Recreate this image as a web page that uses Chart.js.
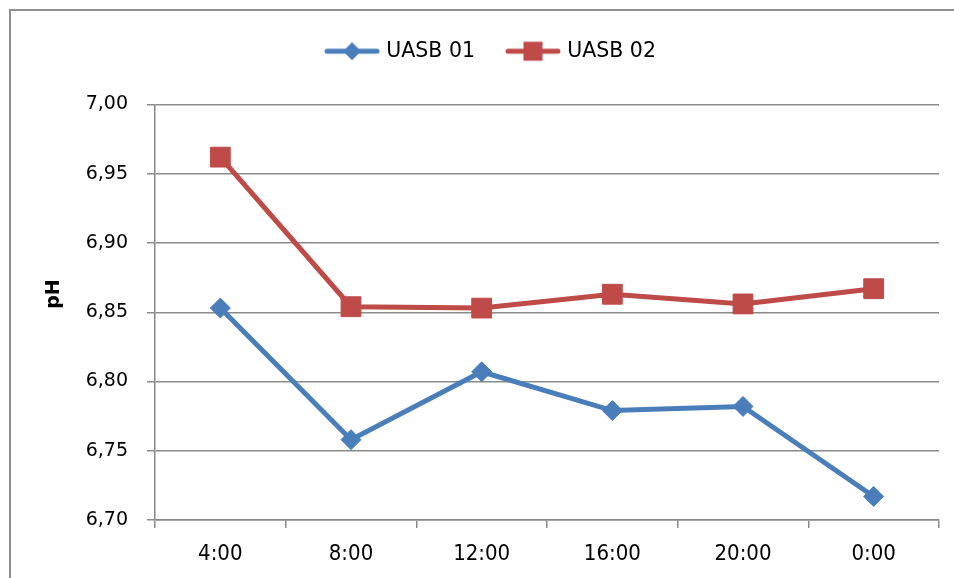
<!DOCTYPE html>
<html>
<head>
<meta charset="utf-8">
<script src="https://cdn.jsdelivr.net/npm/chart.js@4.4.1/dist/chart.umd.min.js"></script>
<style>
  html, body { margin: 0; padding: 0; background: #fff; }
  canvas { display: block; }
</style>
</head>
<body>
<canvas id="ph" width="954" height="578"></canvas>
<script>
const hours = ['4:00', '8:00', '12:00', '16:00', '20:00', '0:00'];
const uasb01 = [6.853, 6.758, 6.807, 6.779, 6.782, 6.717];
const uasb02 = [6.962, 6.854, 6.853, 6.863, 6.856, 6.867];

const blue = '#4A7EBB';
const red = '#BE4B48';
const gridGray = '#8a8a8a';

// legend swatch: a short thick line with the series marker on top
function swatch(color, marker) {
  const c = document.createElement('canvas');
  c.width = 56; c.height = 22;
  const g = c.getContext('2d');
  g.strokeStyle = color;
  g.lineWidth = 5;
  g.lineCap = 'round';
  g.beginPath(); g.moveTo(3, 11); g.lineTo(53, 11); g.stroke();
  g.fillStyle = color;
  if (marker === 'diamond') {
    g.beginPath();
    g.moveTo(28, 2); g.lineTo(37, 11); g.lineTo(28, 20); g.lineTo(19, 11);
    g.closePath(); g.fill();
  } else {
    g.fillRect(18.5, 1.5, 19, 19);
  }
  return c;
}

const frame = {
  id: 'frame',
  beforeDraw(chart) {
    const ctx = chart.ctx;
    ctx.save();
    ctx.fillStyle = '#8e8e8e';
    ctx.fillRect(9, 9, 2, chart.height);
    ctx.fillRect(9, 9, chart.width, 2);
    ctx.restore();
  },
  afterDraw(chart) {
    const ctx = chart.ctx;
    ctx.save();
    ctx.translate(54, 294);
    ctx.rotate(-Math.PI / 2);
    ctx.font = 'bold 19px "DejaVu Sans"';
    ctx.fillStyle = '#000';
    ctx.textAlign = 'center';
    ctx.textBaseline = 'middle';
    ctx.fillText('pH', 0, 0);
    ctx.restore();
  }
};

new Chart(document.getElementById('ph'), {
  type: 'line',
  data: {
    labels: hours,
    datasets: [
      {
        label: 'UASB 01',
        data: uasb01,
        borderColor: blue,
        backgroundColor: blue,
        borderWidth: 5,
        pointStyle: 'rectRot',
        pointRadius: 10,
        pointBorderWidth: 1,
        tension: 0
      },
      {
        label: 'UASB 02',
        data: uasb02,
        borderColor: red,
        backgroundColor: red,
        borderWidth: 5,
        pointStyle: 'rect',
        pointRadius: 14,
        pointBorderWidth: 1,
        tension: 0
      }
    ]
  },
  options: {
    responsive: false,
    animation: false,
    devicePixelRatio: 1,
    layout: { padding: { top: 7, left: 40, right: 10, bottom: 0 } },
    plugins: {
      tooltip: { enabled: false },
      // blank subtitle used as a spacer between legend and plot
      subtitle: {
        display: true,
        text: ' ',
        weight: 500,
        font: { size: 10 },
        padding: { top: 10, bottom: 11 }
      },
      legend: {
        position: 'top',
        labels: {
          usePointStyle: true,
          pointStyleWidth: 48,
          padding: 34,
          color: '#000',
          font: { family: '"DejaVu Sans"', size: 20.5 },
          generateLabels(chart) {
            return chart.data.datasets.map((ds, i) => ({
              text: ds.label,
              pointStyle: swatch(ds.borderColor, i === 0 ? 'diamond' : 'square'),
              fillStyle: ds.borderColor,
              strokeStyle: ds.borderColor,
              lineWidth: 0,
              fontColor: '#000',
              datasetIndex: i
            }));
          }
        }
      }
    },
    scales: {
      x: {
        offset: true,
        grid: {
          display: true,
          offset: true,
          drawOnChartArea: false,
          drawTicks: true,
          tickLength: 8,
          color: gridGray,
          lineWidth: 1.5
        },
        border: { display: true, color: gridGray, width: 1.5 },
        ticks: {
          color: '#000',
          padding: 13,
          maxRotation: 0,
          font: { family: '"DejaVu Sans Condensed", "DejaVu Sans"', size: 22 }
        },
        afterFit(scale) { scale.height = 58; }
      },
      y: {
        min: 6.7,
        max: 7.0,
        grid: {
          color: gridGray,
          lineWidth: 1.5,
          tickLength: 8
        },
        border: { display: true, color: gridGray, width: 1.5 },
        ticks: {
          stepSize: 0.05,
          color: '#000',
          padding: 19,
          font: { family: '"DejaVu Sans"', size: 19 },
          callback: v => Number(v).toFixed(2).replace('.', ',')
        },
        afterFit(scale) { scale.width = 115; }
      }
    }
  },
  plugins: [frame]
});
</script>
</body>
</html>
